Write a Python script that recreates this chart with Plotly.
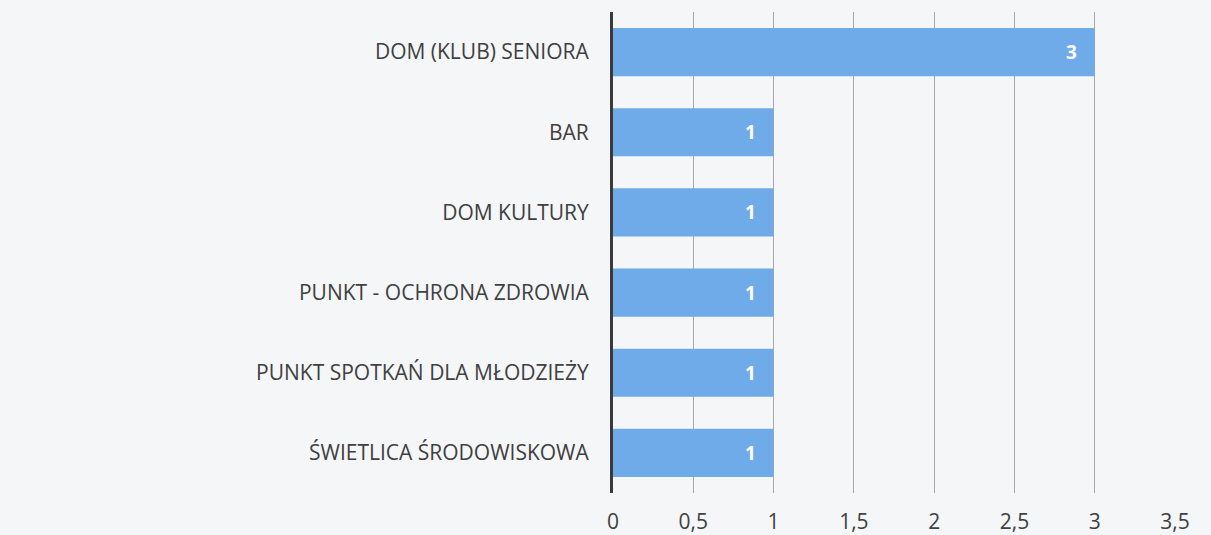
import plotly.graph_objects as go

categories = ["DOM (KLUB) SENIORA", "BAR", "DOM KULTURY", "PUNKT - OCHRONA ZDROWIA",
              "PUNKT SPOTKAŃ DLA MŁODZIEŻY", "ŚWIETLICA ŚRODOWISKOWA"]
values = [3, 1, 1, 1, 1, 1]
tick_vals = [0, 0.5, 1, 1.5, 2, 2.5, 3, 3.5]
tick_text = ["0", "0,5", "1", "1,5", "2", "2,5", "3", "3,5"]

BG = "#f5f6f8"
FONT = "Open Sans"

fig = go.Figure(go.Bar(
    y=categories, x=values, orientation="h",
    marker=dict(color="#6faae9", line=dict(width=0)),
    text=[str(v) for v in values], textposition="inside", insidetextanchor="end",
    textfont=dict(color="white", size=19, family=FONT),
    texttemplate="<b>%{text}</b>\u00a0\u00a0\u00a0",
    constraintext="none",
))

fig.update_layout(
    width=1211, height=535,
    margin=dict(l=613, r=36, t=12, b=42),
    paper_bgcolor=BG, plot_bgcolor=BG,
    bargap=0.4, showlegend=False,
    font=dict(family=FONT, size=21, color="#404040"),
)
fig.update_xaxes(range=[0, 3.5], tickvals=tick_vals, ticktext=tick_text,
                 showgrid=True, gridcolor="#a8a8a8", gridwidth=1,
                 zeroline=False, showline=False, ticks="", ticklabelstandoff=14,
                 automargin=False,
                 tickfont=dict(size=21, color="#404040"))
fig.update_yaxes(categoryorder="array", categoryarray=categories[::-1],
                 showline=True, linecolor="#3a3a3a", linewidth=3,
                 showgrid=False, ticks="", ticklabelstandoff=17,
                 automargin=False,
                 tickfont=dict(size=21, color="#404040"))

fig.write_html("out.html", config={"displayModeBar": False},
               post_script="document.body.style.margin='0';document.body.style.background='%s';" % BG)
